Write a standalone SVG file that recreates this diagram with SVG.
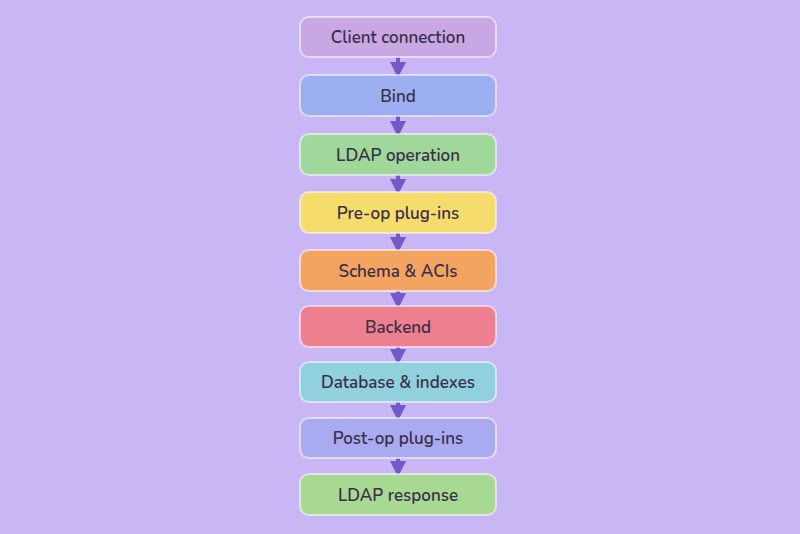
<svg xmlns="http://www.w3.org/2000/svg" width="800" height="534" viewBox="0 0 800 534">
<style>
.n{stroke:#ffffff;stroke-opacity:.55;stroke-width:2}
text{font-family:"Nunito","Open Sans","Liberation Sans",sans-serif;font-size:17px;font-weight:600;fill:#3a2f4a;text-anchor:middle;dominant-baseline:central}
.c{stroke:#7557c9;stroke-width:4;fill:none;marker-end:url(#a)}
</style>
<defs><marker id="a" markerWidth="4" markerHeight="4" refX="2.5" refY="2" orient="auto"><path d="M0,0L4,2L0,4Z" fill="#7557c9"/></marker></defs>
<rect width="800" height="534" fill="#c8b7f4"/>
<g id="connectors">
<line class="c" x1="398" y1="57" x2="398" y2="72"/>
<line class="c" x1="398" y1="116" x2="398" y2="131"/>
<line class="c" x1="398" y1="175" x2="398" y2="189"/>
<line class="c" x1="398" y1="233" x2="398" y2="247"/>
<line class="c" x1="398" y1="291" x2="398" y2="303"/>
<line class="c" x1="398" y1="347" x2="398" y2="359"/>
<line class="c" x1="398" y1="402" x2="398" y2="415"/>
<line class="c" x1="398" y1="458" x2="398" y2="471"/>
</g>
<g id="n1"><rect class="n" x="300" y="17" width="196" height="40" rx="9" fill="#c9a7e2"/><text x="398" y="37">Client connection</text></g>
<g id="n2"><rect class="n" x="300" y="75" width="196" height="41" rx="9" fill="#9cb0f1"/><text x="398" y="96">Bind</text></g>
<g id="n3"><rect class="n" x="300" y="134" width="196" height="41" rx="9" fill="#a0d89c"/><text x="398" y="155">LDAP operation</text></g>
<g id="n4"><rect class="n" x="300" y="192" width="196" height="41" rx="9" fill="#f6dc6c"/><text x="398" y="213">Pre-op plug-ins</text></g>
<g id="n5"><rect class="n" x="300" y="250" width="196" height="41" rx="9" fill="#f4a461"/><text x="398" y="271">Schema &amp; ACIs</text></g>
<g id="n6"><rect class="n" x="300" y="306" width="196" height="41" rx="9" fill="#ee7f8e"/><text x="398" y="327">Backend</text></g>
<g id="n7"><rect class="n" x="300" y="362" width="196" height="40" rx="9" fill="#90d1dd"/><text x="398" y="382">Database &amp; indexes</text></g>
<g id="n8"><rect class="n" x="300" y="418" width="196" height="40" rx="9" fill="#aaaaf0"/><text x="398" y="438">Post-op plug-ins</text></g>
<g id="n9"><rect class="n" x="300" y="474" width="196" height="41" rx="9" fill="#a8d992"/><text x="398" y="495">LDAP response</text></g>
</svg>
